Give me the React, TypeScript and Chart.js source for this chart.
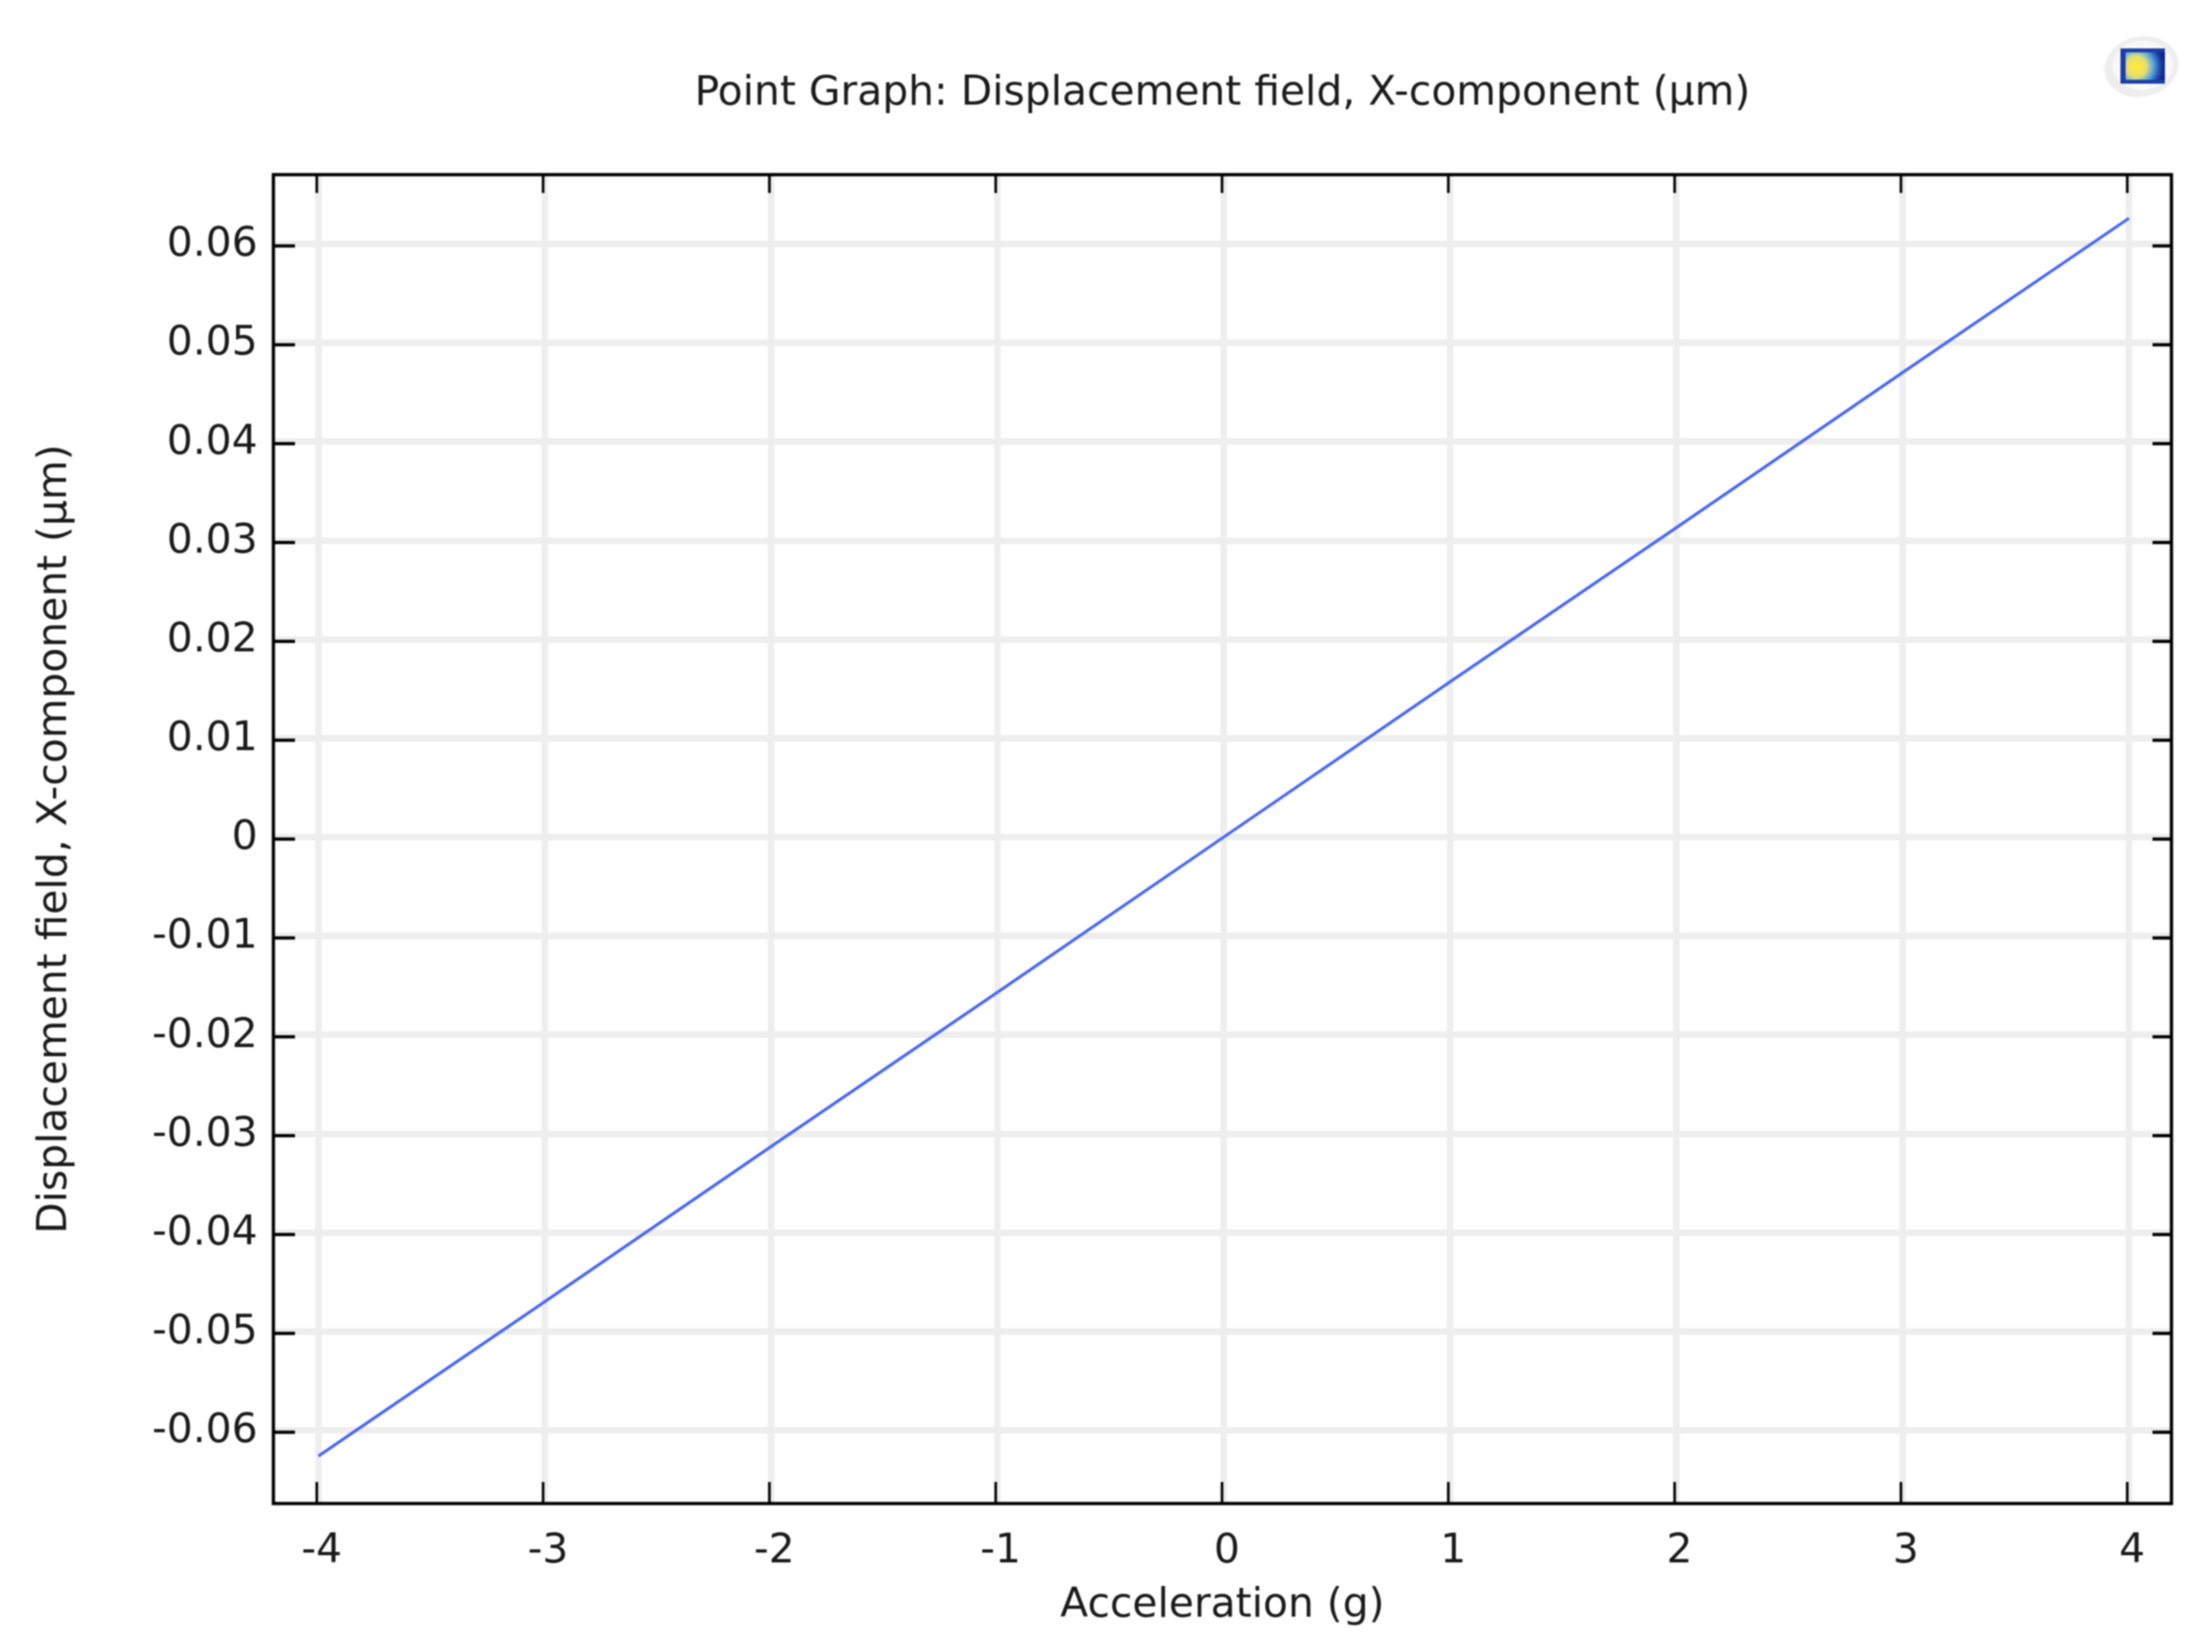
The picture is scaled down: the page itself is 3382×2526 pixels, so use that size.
import React, { useEffect, useRef } from "react";
import { Chart, registerables } from "chart.js";

Chart.register(...registerables);

const titleText = "Point Graph: Displacement field, X-component (µm)";
const xLabel = "Acceleration (g)";
const yLabel = "Displacement field, X-component (µm)";
const xTicks = [-4, -3, -2, -1, 0, 1, 2, 3, 4];
const yTicks = [-0.06, -0.05, -0.04, -0.03, -0.02, -0.01, 0, 0.01, 0.02, 0.03, 0.04, 0.05, 0.06];
const accel = [-4, -3, -2, -1, 0, 1, 2, 3, 4];
const disp = [-0.0626, -0.047, -0.0313, -0.0157, 0, 0.0157, 0.0313, 0.047, 0.0626];

const FONT = "'DejaVu Sans'";
const TEXT = "#1a1a1a";
const FS = 62.4;

const frame = {
  id: "frame",
  afterDraw(chart: any) {
    const { ctx, chartArea: a, scales } = chart;
    ctx.save();
    ctx.fillStyle = "#000";
    // inner ticks, slightly offset from the grid as in the source
    for (const v of xTicks) {
      const x = scales.x.getPixelForValue(v) - 2.5;
      ctx.fillRect(x - 2, a.top, 4, 28);
      ctx.fillRect(x - 2, a.bottom - 33, 4, 33);
    }
    for (const v of yTicks) {
      const y = scales.y.getPixelForValue(v) + 3;
      ctx.fillRect(a.left, y - 2.5, 33, 5);
      ctx.fillRect(a.right - 29, y - 2.5, 29, 5);
    }
    ctx.lineWidth = 5;
    ctx.strokeStyle = "#000";
    ctx.strokeRect(a.left, a.top, a.right - a.left, a.bottom - a.top);
    ctx.restore();

    // small logo, top right
    ctx.save();
    ctx.fillStyle = "#eeeeee";
    ctx.beginPath();
    ctx.ellipse(3274, 102, 57, 46, -0.2, 0, Math.PI * 2);
    ctx.fill();
    ctx.fillStyle = "#f8f8f8";
    ctx.beginPath();
    ctx.ellipse(3276, 100, 46, 38, 0, 0, Math.PI * 2);
    ctx.fill();
    ctx.fillStyle = "#1d3fa8";
    ctx.fillRect(3242, 74, 68, 54);
    const g = ctx.createRadialGradient(3266, 102, 4, 3266, 102, 44);
    g.addColorStop(0, "#fde83e");
    g.addColorStop(0.3, "#e2de78");
    g.addColorStop(0.55, "#5aa8e0");
    g.addColorStop(0.85, "rgba(27,63,166,0.9)");
    g.addColorStop(1, "rgba(15,31,128,0.9)");
    ctx.fillStyle = g;
    ctx.fillRect(3250, 80, 60, 42);
    ctx.restore();
  },
};

export default function App() {
  const ref = useRef<HTMLCanvasElement>(null);
  useEffect(() => {
    document.body.style.margin = "0";
    const chart = new Chart(ref.current as HTMLCanvasElement, {
      type: "scatter",
      data: {
        datasets: [
          {
            data: accel.map((x, i) => ({ x, y: disp[i] })),
            showLine: true,
            borderColor: "#4463fb",
            borderWidth: 4.5,
            pointRadius: 0,
          },
        ],
      },
      options: {
        responsive: false,
        animation: false,
        layout: { padding: { left: 0, right: 62, top: 0, bottom: 0 } },
        plugins: {
          legend: { display: false },
          tooltip: { enabled: false },
          title: {
            display: true,
            fullSize: false,
            text: titleText,
            color: TEXT,
            font: { family: FONT, size: FS, weight: "normal" },
            padding: { top: 106, bottom: 86.2 },
          },
        },
        scales: {
          x: {
            type: "linear",
            min: -4.199,
            max: 4.188,
            afterBuildTicks: (s: any) => {
              s.ticks = xTicks.map((value) => ({ value }));
            },
            afterFit: (s: any) => {
              s.height = 227;
            },
            grid: { color: "#eeeeee", lineWidth: 10, drawTicks: false },
            border: { display: false },
            ticks: {
              color: TEXT,
              font: { family: FONT, size: FS },
              padding: 36,
              labelOffset: 5,
              maxRotation: 0,
              autoSkip: false,
              callback: (v: any) => String(v),
            },
            title: {
              display: true,
              text: xLabel,
              color: TEXT,
              font: { family: FONT, size: FS },
              padding: { top: 0, bottom: 33 },
            },
          },
          y: {
            type: "linear",
            min: -0.06741,
            max: 0.06701,
            afterBuildTicks: (s: any) => {
              s.ticks = yTicks.map((value) => ({ value }));
            },
            afterFit: (s: any) => {
              s.width = 418;
            },
            grid: { color: "#eeeeee", lineWidth: 10, drawTicks: false },
            border: { display: false },
            ticks: {
              color: TEXT,
              font: { family: FONT, size: FS },
              padding: 24,
              labelOffset: 2,
              autoSkip: false,
              callback: (v: any) => String(Number(Number(v).toFixed(2))),
            },
            title: {
              display: true,
              text: yLabel,
              color: TEXT,
              font: { family: FONT, size: FS },
              padding: { top: 47, bottom: 0 },
            },
          },
        },
      },
      plugins: [frame],
    } as any);
    return () => chart.destroy();
  }, []);
  return (
    <canvas
      ref={ref}
      width={3382}
      height={2526}
      style={{ display: "block", width: 3382, height: 2526, background: "#fff", filter: "blur(0.8px)" }}
    />
  );
}
